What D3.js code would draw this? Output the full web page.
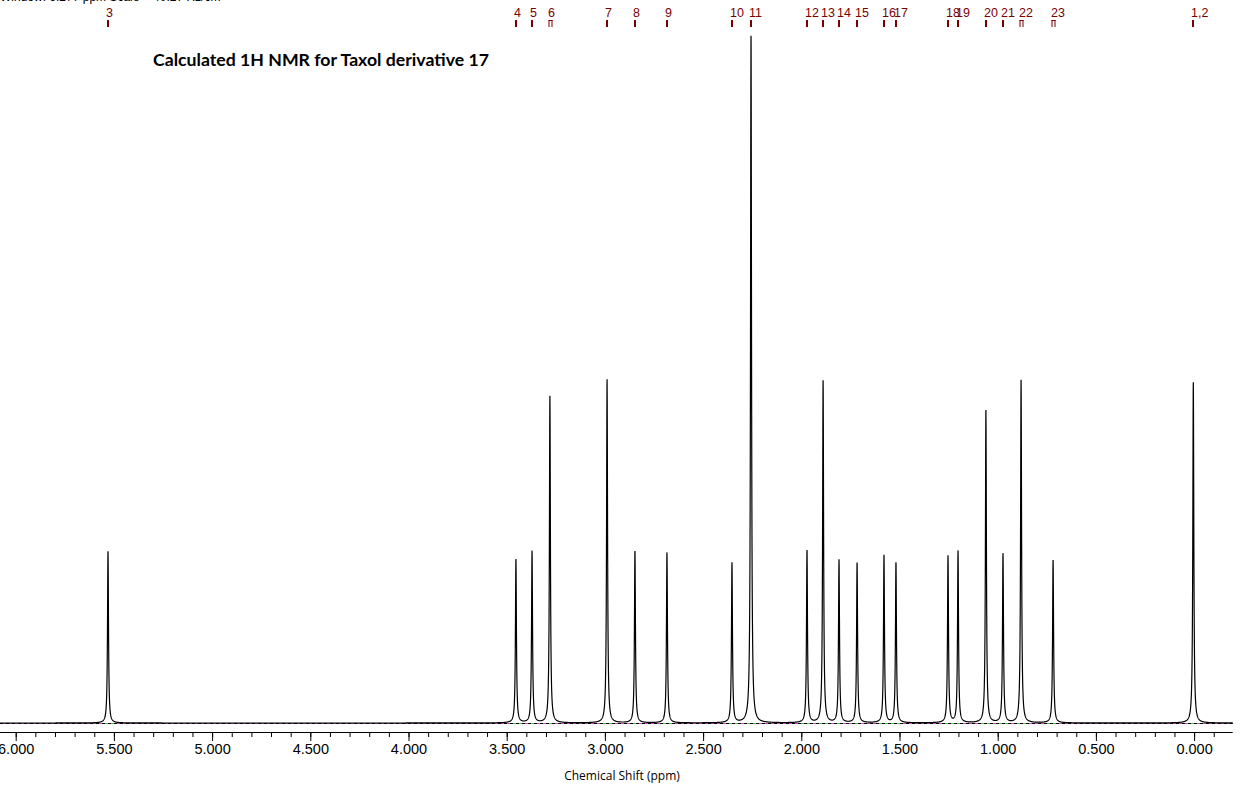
<!DOCTYPE html>
<html>
<head>
<meta charset="utf-8">
<script src="https://cdn.jsdelivr.net/npm/d3@7"></script>
<style>
  html, body { margin: 0; padding: 0; background: #ffffff; }
  svg { display: block; }
</style>
</head>
<body>
<svg id="chart" width="1255" height="789"></svg>
<script>
// ---- data ----
const peakLabels = ["3","4","5","6","7","8","9","10","11","12","13","14","15","16","17","18","19","20","21","22","23","1,2"];
const peakShifts = [5.530, 3.453, 3.371, 3.280, 2.989, 2.847, 2.684, 2.353, 2.256, 1.971, 1.889, 1.808, 1.716, 1.579, 1.518, 1.253, 1.202, 1.060, 0.973, 0.881, 0.718, 0.004];
const peakIntensities = [0.250, 0.238, 0.250, 0.476, 0.500, 0.250, 0.248, 0.233, 1.000, 0.251, 0.498, 0.237, 0.233, 0.244, 0.233, 0.243, 0.250, 0.455, 0.246, 0.499, 0.237, 0.496];
const doubletMarkers = ["6", "22", "23"];
const majorTicks = [6.0, 5.5, 5.0, 4.5, 4.0, 3.5, 3.0, 2.5, 2.0, 1.5, 1.0, 0.5, 0.0];
const minorTicks = d3.range(60, -2, -1).map(v => v / 10);
const titleText = "Calculated 1H NMR for Taxol derivative 17";
const headerText = "Window: 6.277 ppm  Scale = 40.27 Hz/cm";
const xAxisTitle = "Chemical Shift (ppm)";
const lineHalfWidth = 0.003; // Lorentzian half width (ppm)

// ---- scales ----
const svg = d3.select("#chart");
const x = d3.scaleLinear().domain([6, 0]).range([15.7, 1194.1]);
const y = d3.scaleLinear().domain([0, 1]).range([723, 36]);
const plotLeft = 0, plotRight = 1232.7;
const axisY = 732;

// header (cut off at top)
svg.append("text").attr("x", 0).attr("y", 0.5)
  .attr("font-family", "Liberation Sans, Arial, sans-serif").attr("font-size", 12)
  .attr("fill", "#000").text(headerText);

// title
svg.append("text").attr("x", 153).attr("y", 66)
  .attr("font-family", "Lato, sans-serif").attr("font-weight", "bold").attr("font-size", 17)
  .attr("textLength", 336).attr("lengthAdjust", "spacingAndGlyphs")
  .attr("fill", "#000").text(titleText);

// baseline: magenta with black dashes, green under peaks
const baseY = y(0) + 0.5;
svg.append("line").attr("x1", plotLeft).attr("x2", plotRight).attr("y1", baseY).attr("y2", baseY)
  .attr("stroke", "#d040d0").attr("stroke-width", 1);
svg.append("g").selectAll("line").data(peakShifts).join("line")
  .attr("x1", d => x(d) - 5).attr("x2", d => x(d) + 5)
  .attr("y1", baseY).attr("y2", baseY)
  .attr("stroke", "#33cc33").attr("stroke-width", 1);
svg.append("line").attr("x1", plotLeft).attr("x2", plotRight).attr("y1", baseY).attr("y2", baseY)
  .attr("stroke", "#000").attr("stroke-width", 1).attr("stroke-dasharray", "3,3");

// spectrum line: sum of Lorentzian peaks
const xmin = x.invert(plotRight), xmax = x.invert(plotLeft);
let samples = d3.range(xmin, xmax, 0.0006).concat(peakShifts);
samples.sort((a, b) => b - a);
const spectrum = samples.map(p => {
  let s = 0;
  for (let i = 0; i < peakShifts.length; i++) {
    const d = (p - peakShifts[i]) / lineHalfWidth;
    s += peakIntensities[i] / (1 + d * d);
  }
  return [p, s];
});
svg.append("path").datum(spectrum)
  .attr("fill", "none").attr("stroke", "#000").attr("stroke-width", 1.2)
  .attr("d", d3.line().x(d => x(d[0])).y(d => y(d[1])));

// peak labels at top
const lab = svg.append("g");
peakShifts.forEach((p, i) => {
  const px = Math.round(x(p));
  lab.append("text").attr("x", px - 2).attr("y", 17)
    .attr("font-family", "Liberation Sans Narrow, Arial Narrow, sans-serif").attr("font-size", 12.5)
    .attr("fill", "#7a0000").text(peakLabels[i]);
  if (doubletMarkers.includes(peakLabels[i])) {
    lab.append("rect").attr("x", px - 1.5).attr("y", 20).attr("width", 1).attr("height", 7).attr("fill", "#7a0000");
    lab.append("rect").attr("x", px + 1.5).attr("y", 20).attr("width", 1).attr("height", 7).attr("fill", "#7a0000");
    lab.append("rect").attr("x", px - 1.5).attr("y", 20).attr("width", 4).attr("height", 1).attr("fill", "#7a0000");
  } else {
    lab.append("rect").attr("x", px - 1).attr("y", 20).attr("width", 2).attr("height", 7).attr("fill", "#7a0000");
  }
});

// x axis
svg.append("line").attr("x1", plotLeft).attr("x2", plotRight).attr("y1", axisY + 0.5).attr("y2", axisY + 0.5)
  .attr("stroke", "#000").attr("stroke-width", 1);
const minorAxis = d3.axisBottom(x).tickValues(minorTicks).tickSize(5).tickFormat("").tickSizeOuter(0);
const gMinor = svg.append("g").attr("transform", `translate(0,${axisY})`).call(minorAxis);
gMinor.select(".domain").remove();
const majorAxis = d3.axisBottom(x).tickValues(majorTicks).tickSize(9).tickPadding(3).tickFormat(d3.format(".3f")).tickSizeOuter(0);
const gMajor = svg.append("g").attr("transform", `translate(0,${axisY})`).call(majorAxis);
gMajor.select(".domain").remove();
gMajor.selectAll("text").attr("font-family", "Liberation Sans Narrow, Arial Narrow, sans-serif")
  .attr("font-size", 14.5).attr("fill", "#000");
svg.selectAll(".tick line").attr("stroke", "#000");

// axis title
svg.append("text").attr("x", 622).attr("y", 780).attr("text-anchor", "middle")
  .attr("font-family", "Open Sans, sans-serif").attr("font-size", 12)
  .attr("fill", "#000").text(xAxisTitle);
</script>
</body>
</html>
